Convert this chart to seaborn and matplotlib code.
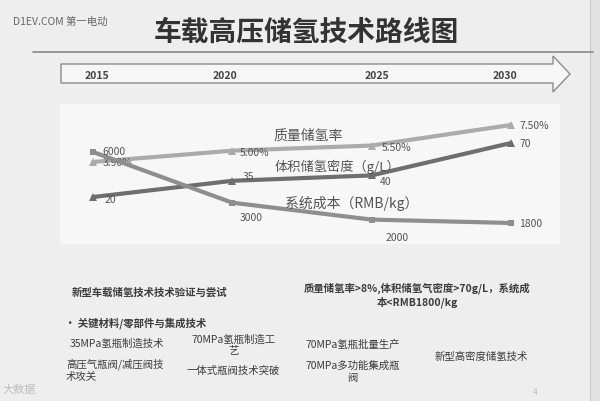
import matplotlib
matplotlib.use("Agg")
import matplotlib.pyplot as plt
from matplotlib.patches import Polygon, Rectangle
import seaborn as sns

# Data
years = [2015, 2020, 2025, 2030]
year_labels = ["2015", "2020", "2025", "2030"]
mass_rate = [3.9, 5.0, 5.5, 7.5]          # 质量储氢率 (%)
vol_density = [20, 35, 40, 70]            # 体积储氢密度 (g/L)
system_cost = [6000, 3000, 2000, 1800]    # 系统成本 (RMB/kg)

sns.set_theme(style="white")
plt.rcParams['font.family'] = ['Noto Sans CJK SC', 'DejaVu Sans']

W, H = 600, 402
fig = plt.figure(figsize=(6, 4.02), dpi=100, facecolor='#eeeeee')


def fx(x):
    return x / W


def fy(y):
    return 1 - y / H


def txt(x, y, s, **kw):
    kw.setdefault('color', '#3c3c3c')
    kw.setdefault('fontsize', 7.5)
    kw.setdefault('va', 'center')
    fig.text(fx(x), fy(y), s, **kw)


# right edge strip of the photo
fig.patches.append(Rectangle((fx(590), 0), fx(10), 1, transform=fig.transFigure,
                             facecolor='#e2e2e2', edgecolor='#c8c8c8', lw=0.8))

# watermark and title
txt(13, 22, "D1EV.COM 第一电动", fontsize=7.5, color='#666666')
txt(306, 33, "车载高压储氢技术路线图", fontsize=20, fontweight='bold',
    color='#333333', ha='center')
fig.lines.append(plt.Line2D([fx(33), fx(593)], [fy(53), fy(53)],
                            transform=fig.transFigure, color='#8a8a8a', lw=1.2))

# timeline arrow
arrow_pts = [(61, 65), (553, 65), (553, 57), (570, 75), (553, 93), (553, 84), (61, 84)]
fig.patches.append(Polygon([(fx(a), fy(b)) for a, b in arrow_pts], closed=True,
                           transform=fig.transFigure, facecolor='#f6f6f6',
                           edgecolor='#8c8c8c', lw=1))
for xp, lab in zip([97, 225, 377, 505], year_labels):
    txt(xp, 76, lab, fontsize=7.5, fontweight='bold', color='#444444', ha='center')

# chart axes (three independent scales, like the original slide)
ax = fig.add_axes([fx(60), fy(245), fx(500), 140 / H])
ax.set_facecolor('#f7f7f7')
ax2 = ax.twinx()
ax3 = ax.twinx()
for a in (ax, ax2, ax3):
    a.set_xlim(2013.816, 2031.758)
    a.set_xticks([])
    a.set_yticks([])
    a.grid(False)
    for sp in a.spines.values():
        sp.set_visible(False)
ax.set_ylim(-4.08, 9.54)
ax2.set_ylim(-23.5, 106.1)
ax3.set_ylim(557, 8839)

sns.lineplot(x=years, y=mass_rate, ax=ax, color='#ababab', lw=3, marker='^',
             markersize=6, markeredgewidth=0)
sns.lineplot(x=years, y=vol_density, ax=ax2, color='#6e6e6e', lw=3, marker='^',
             markersize=6, markeredgewidth=0)
sns.lineplot(x=years, y=system_cost, ax=ax3, color='#8e8e8e', lw=3, marker='s',
             markersize=5, markeredgewidth=0)

lab_kw = dict(textcoords='offset pixels', fontsize=7.5, color='#555555', va='center')
mass_off = [(10, 0), (7, -1), (10, -1), (8, 0)]
vol_off = [(12, -2), (10, 5), (8, -6), (8, 0)]
cost_off = [(9, 1), (19, -14), (25, -17), (8, 0)]
for xv, v, o in zip(years, mass_rate, mass_off):
    ax.annotate(f"{v:.2f}%", (xv, v), xytext=o, **lab_kw)
for xv, v, o in zip(years, vol_density, vol_off):
    ax2.annotate(f"{v}", (xv, v), xytext=o, **lab_kw)
for i, (xv, v, o) in enumerate(zip(years, system_cost, cost_off)):
    ha = 'center' if i in (1, 2) else 'left'
    ax3.annotate(f"{v}", (xv, v), xytext=o, ha=ha, **lab_kw)

# series names
txt(273, 136, "质量储氢率", fontsize=10, color='#555555')
txt(275, 167, "体积储氢密度（g/L）", fontsize=9.5, color='#555555')
txt(285, 203, "系统成本（RMB/kg）", fontsize=10, color='#555555')

# text table below the chart
txt(72, 293, "新型车载储氢技术技术验证与尝试", fontweight='bold')
txt(417, 295, "质量储氢率>8%,体积储氢气密度>70g/L，系统成\n本<RMB1800/kg",
    fontweight='bold', ha='center', multialignment='center', linespacing=1.3)
txt(65, 323, "• 关键材料/零部件与集成技术", fontweight='bold')
txt(70, 344, "35MPa氢瓶制造技术")
txt(234, 345, "70MPa氢瓶制造工\n艺", ha='center', multialignment='center',
    linespacing=1.2)
txt(66, 370, "高压气瓶阀/减压阀技\n术攻关", linespacing=1.2)
txt(187, 371, "一体式瓶阀技术突破")
txt(305, 345, "70MPa氢瓶批量生产")
txt(305, 372, "70MPa多功能集成瓶\n阀", multialignment='center', linespacing=1.2)
txt(435, 357, "新型高密度储氢技术")
txt(533, 393, "4", fontsize=6, color='#bbbbbb')
txt(2, 390, "大数据", fontsize=8, color='#bdbdbd')

fig.savefig("out.png", dpi=100, facecolor=fig.get_facecolor())
